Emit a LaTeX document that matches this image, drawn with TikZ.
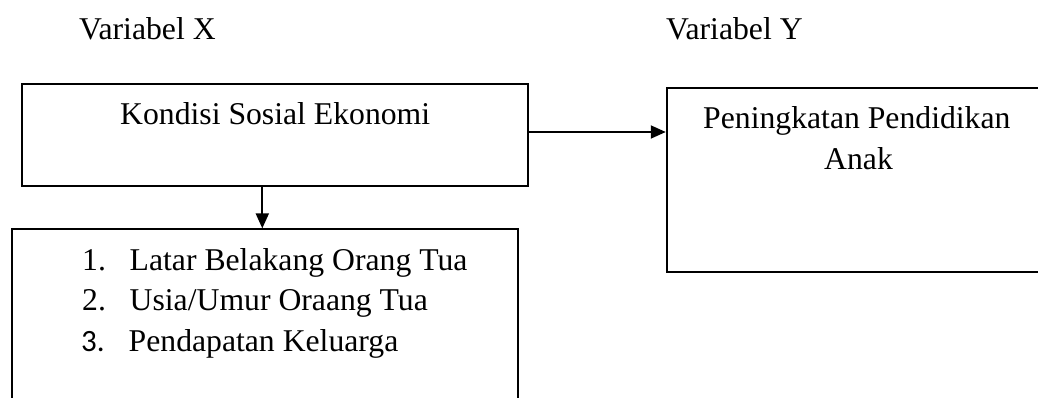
\documentclass[tikz,border=0pt]{standalone}
\usepackage{fontspec}
\setmainfont{Liberation Serif}
\newfontfamily\calibfont{Carlito}
\usetikzlibrary{arrows.meta}
\begin{document}
\begin{tikzpicture}[x=1pt,y=-1pt,
  box/.style={draw, line width=1.9pt, rectangle, inner sep=0pt},
  txt/.style={inner sep=0pt, anchor=base west, font=\fontsize{31.7}{38}\selectfont},
  arr/.style={line width=1.9pt, -{Triangle[length=15pt,width=13pt]}}]
\useasboundingbox (0,0) rectangle (1038,398);
\clip (0,0) rectangle (1038,398);
% boxes
\node[box, minimum width=506pt, minimum height=102pt] (kse) at (275.3,135) {};
\node[box, minimum width=506pt, minimum height=220pt] (fac) at (265.3,339.3) {};
\node[box, minimum width=500pt, minimum height=184pt] (pend) at (916.7,180.3) {};
% connectors
\coordinate (ax) at (262.3,0);
\coordinate (hy) at (0,132);
\draw[arr] (kse.south -| ax) -- (fac.north -| ax);
\draw[arr] (kse.east |- hy) -- (pend.west |- hy);
% texts
\node[txt] (vx) at (79,40) {Variabel X};
\node[txt] (vy) at (666,40) {Variabel Y};
\node[txt] (t1) at (120,124.3) {Kondisi Sosial Ekonomi};
\node[txt] (t2) at (703,128.3) {Peningkatan Pendidikan};
\node[txt] (t3) at (824,170) {Anak};
\node[txt] (n1) at (82,270) {1.};
\node[txt] (l1) at (129.5,270) {Latar Belakang Orang Tua};
\node[txt] (n2) at (82,310.7) {2.};
\node[txt] (l2) at (129.5,310.7) {Usia/Umur Oraang Tua};
\node[inner sep=0pt, anchor=base west, font=\calibfont\fontsize{31}{38}\selectfont] (n3) at (81,351.7) {3.};
\node[txt] (l3) at (128.5,351.7) {Pendapatan Keluarga};
\end{tikzpicture}
\end{document}
